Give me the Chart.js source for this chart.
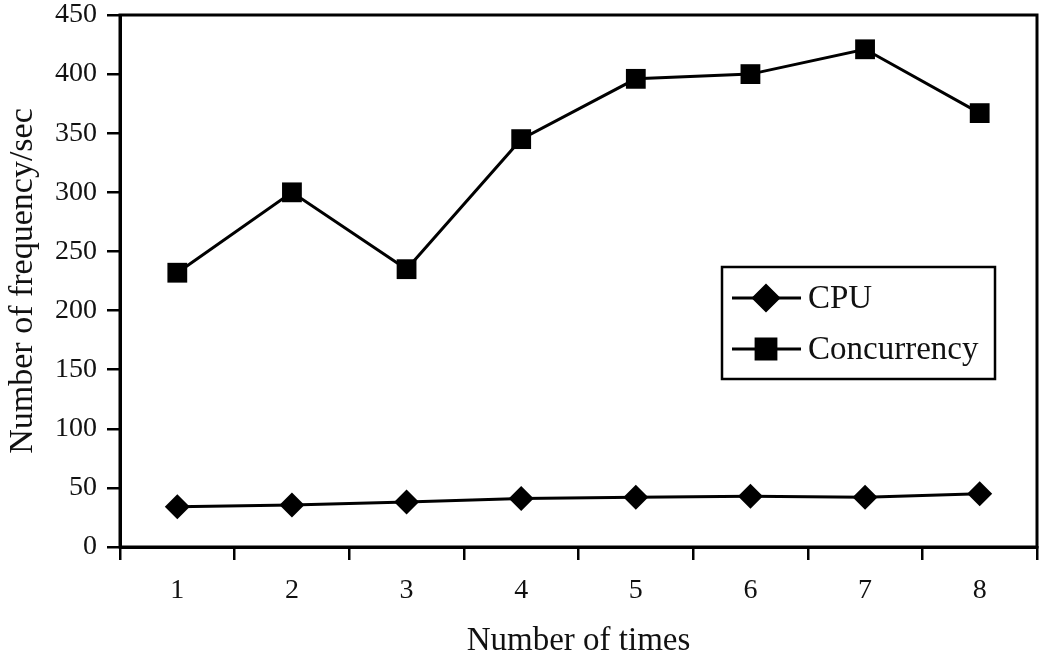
<!DOCTYPE html>
<html><head><meta charset="utf-8">
<script src="https://cdn.jsdelivr.net/npm/chart.js@4"></script>
<style>html,body{margin:0;padding:0;background:#fff}#wrap{width:1042px;height:656px}</style>
</head><body><div id="wrap"><canvas id="c" width="1042" height="656"></canvas></div>
<script>
const categories = ['1','2','3','4','5','6','7','8'];
const cpuValues = [34, 35.5, 38, 41, 42, 43, 42, 45];
const concurrencyValues = [232, 300, 235, 345, 396, 400, 421, 367];
const seriesNames = ['CPU', 'Concurrency'];
const xTitle = 'Number of times';
const yTitle = 'Number of frequency/sec';
const FONT = '"Liberation Serif", "Times New Roman", serif';

const frame = {
  id: 'frame',
  afterDraw(chart) {
    const {ctx, chartArea: a} = chart;
    ctx.save();
    ctx.strokeStyle = '#000';
    ctx.lineWidth = 3;
    ctx.strokeRect(a.left, a.top, a.right - a.left, a.bottom - a.top);
    // legend box
    const bx = 722, by = 267, bw = 273, bh = 112;
    ctx.fillStyle = '#fff';
    ctx.fillRect(bx, by, bw, bh);
    ctx.lineWidth = 2.5;
    ctx.strokeRect(bx, by, bw, bh);
    chart.data.datasets.forEach((ds, i) => {
      const cy = by + 31 + i * 51;
      ctx.strokeStyle = '#000';
      ctx.lineWidth = 3;
      ctx.beginPath(); ctx.moveTo(bx + 10, cy); ctx.lineTo(bx + 79, cy); ctx.stroke();
      Chart.helpers.drawPoint(ctx, {pointStyle: ds.pointStyle, radius: ds.pointRadius, borderWidth: 1}, bx + 44, cy);
      ctx.fillStyle = '#000';
      ctx.fill();
      ctx.font = '33px ' + FONT;
      ctx.fillStyle = '#111';
      ctx.textBaseline = 'middle';
      ctx.textAlign = 'left';
      ctx.fillText(ds.label, bx + 86, cy + 1);
    });
    ctx.restore();
  }
};

new Chart(document.getElementById('c'), {
  type: 'line',
  data: {
    labels: categories,
    datasets: [
      {label: seriesNames[0], data: cpuValues, borderColor: '#000', backgroundColor: '#000',
       borderWidth: 3, pointStyle: 'rectRot', pointRadius: 12.5, pointBorderWidth: 0, tension: 0, clip: false},
      {label: seriesNames[1], data: concurrencyValues, borderColor: '#000', backgroundColor: '#000',
       borderWidth: 3, pointStyle: 'rect', pointRadius: 14, pointBorderWidth: 0, tension: 0, clip: false}
    ]
  },
  options: {
    responsive: false,
    animation: false,
    layout: {autoPadding: false, padding: {top: 15, right: 5, left: 0, bottom: 0}},
    plugins: {legend: {display: false}, tooltip: {enabled: false}},
    scales: {
      x: {
        offset: true,
        grid: {offset: true, drawOnChartArea: false, drawTicks: true, tickLength: 13, color: '#000', lineWidth: 2.5},
        border: {display: true, color: '#000', width: 3},
        ticks: {color: '#111', font: {family: FONT, size: 28}, padding: 14},
        title: {display: true, text: xTitle, color: '#111', font: {family: FONT, size: 33}, padding: {top: 18, bottom: -5}},
        afterFit(s) { s.height = 109; s.paddingLeft = 0; s.paddingRight = 0; }
      },
      y: {
        min: 0, max: 450,
        ticks: {stepSize: 50, color: '#111', font: {family: FONT, size: 28}, padding: 10},
        grid: {drawOnChartArea: false, drawTicks: true, tickLength: 13, color: '#000', lineWidth: 2.5},
        border: {display: true, color: '#000', width: 3},
        title: {display: true, text: yTitle, color: '#111', font: {family: FONT, size: 34}, padding: {top: 3, bottom: 2}},
        afterFit(s) { s.width = 120; s.paddingTop = 0; s.paddingBottom = 0; }
      }
    }
  },
  plugins: [frame]
});
</script></body></html>
